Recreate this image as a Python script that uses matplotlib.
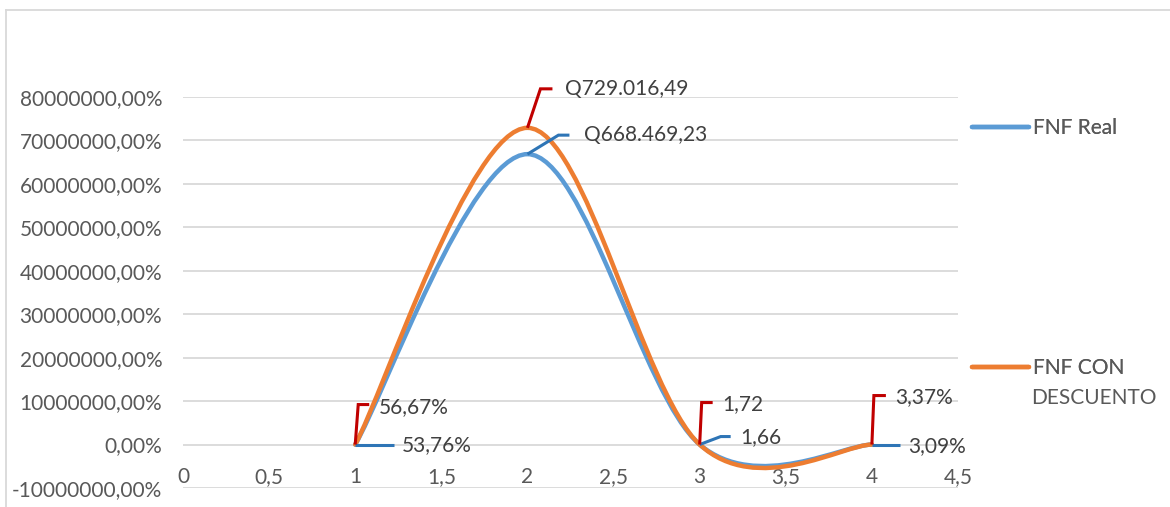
import matplotlib
matplotlib.use("Agg")
import matplotlib.pyplot as plt
from matplotlib.path import Path
from matplotlib.patches import PathPatch
from matplotlib.lines import Line2D
from matplotlib.ticker import FuncFormatter, MultipleLocator

plt.rcParams['font.family'] = ['Lato', 'DejaVu Sans']

periods = [1, 2, 3, 4]
fnf_real = [0.5376, 668469.23, 1.66, 0.0309]
fnf_descuento = [0.5667, 729016.49, 1.72, 0.0337]
real_labels = ["53,76%", "Q668.469,23", "1,66", "3,09%"]
descuento_labels = ["56,67%", "Q729.016,49", "1,72", "3,37%"]
series_names = ["FNF Real", "FNF CON", "DESCUENTO"]

BLUE = "#5B9BD5"
ORANGE = "#ED7D31"
BLUE_LEADER = "#2E75B6"
RED_LEADER = "#C00000"
GRID = "#D9D9D9"
TICK = "#595959"
LABEL = "#404040"
FS = 15


def smooth_path(xs, ys):
    # Excel-like smoothed line: Catmull-Rom segments as cubic Beziers
    pts = list(zip(xs, ys))
    verts = [pts[0]]
    codes = [Path.MOVETO]
    n = len(pts)
    for i in range(n - 1):
        p0 = pts[max(i - 1, 0)]
        p1 = pts[i]
        p2 = pts[i + 1]
        p3 = pts[min(i + 2, n - 1)]
        c1 = (p1[0] + (p2[0] - p0[0]) / 6, p1[1] + (p2[1] - p0[1]) / 6)
        c2 = (p2[0] - (p3[0] - p1[0]) / 6, p2[1] - (p3[1] - p1[1]) / 6)
        verts += [c1, c2, p2]
        codes += [Path.CURVE4] * 3
    return Path(verts, codes)


def pct_fmt(v, pos):
    return f"{v * 100:.2f}".replace(".", ",") + "%"


def x_fmt(v, pos):
    return f"{v:g}".replace(".", ",")


fig = plt.figure(figsize=(11.7, 5.07), dpi=100)
ax = fig.add_axes([183 / 1170, 1 - 488 / 507, 775 / 1170, (488 - 97) / 507])

ax.set_xlim(0, 4.5)
ax.set_ylim(-100000, 800000)
ax.xaxis.set_major_locator(MultipleLocator(0.5))
ax.yaxis.set_major_locator(MultipleLocator(100000))
ax.xaxis.set_major_formatter(FuncFormatter(x_fmt))
ax.yaxis.set_major_formatter(FuncFormatter(pct_fmt))
ax.grid(axis='y', color=GRID, linewidth=1.3)
ax.set_axisbelow(True)
for side in ['left', 'right', 'top']:
    ax.spines[side].set_visible(False)
ax.spines['bottom'].set_position(('data', 0))
ax.spines['bottom'].set_color('none')
ax.tick_params(axis='both', length=0, labelsize=FS, colors=TICK)
ax.tick_params(axis='x', pad=16)
ax.tick_params(axis='y', pad=15)

for ys, color in [(fnf_real, BLUE), (fnf_descuento, ORANGE)]:
    ax.add_patch(PathPatch(smooth_path(periods, ys), facecolor='none',
                           edgecolor=color, linewidth=3.2, capstyle='round'))

# data label leaders, offsets in pixels from the data point
real_leaders = [[(0, 0), (39, 0)], [(0, 0), (31, 19), (42, 19)],
                [(0, 0), (21, 8), (31, 8)], [(0, 0), (28, 0)]]
real_text = [(47, -1), (57, 19), (41, 7), (36, -2)]
desc_leaders = [[(0, 0), (3, 40), (14, 40)], [(0, 0), (13, 39), (25, 39)],
                [(0, 0), (2, 42), (13, 42)], [(0, 0), (2, 49), (14, 49)]]
desc_text = [(24, 37), (38, 39), (23, 40), (23, 47)]

px = fig.dpi / 72.0
for ys, labels, leaders, offs, lcolor in [
        (fnf_real, real_labels, real_leaders, real_text, BLUE_LEADER),
        (fnf_descuento, descuento_labels, desc_leaders, desc_text, RED_LEADER)]:
    for x, y, lab, leader, off in zip(periods, ys, labels, leaders, offs):
        disp = ax.transData.transform([(x, y)])[0]
        verts = [(disp[0] + dx, disp[1] + dy) for dx, dy in leader]
        line = Line2D([v[0] for v in verts], [v[1] for v in verts],
                      color=lcolor, linewidth=2.2, transform=None,
                      solid_capstyle='butt', solid_joinstyle='miter')
        fig.add_artist(line)
        ax.annotate(lab, xy=(x, y), xytext=(off[0] / px, off[1] / px),
                    textcoords='offset points', ha='left', va='center',
                    fontsize=FS, color=LABEL)

# legend, entries spread like the original
for name, color, ypos in [(series_names[0], BLUE, 1 - 128 / 507),
                          (series_names[1], ORANGE, 1 - 368 / 507)]:
    handle = Line2D([], [], color=color, linewidth=3.2, solid_capstyle='round')
    leg = fig.legend([handle], [name], loc='center left',
                     bbox_to_anchor=(953 / 1170, ypos), frameon=False,
                     fontsize=FS, handlelength=2.75, handletextpad=0.2,
                     labelcolor=TICK)
    fig.add_artist(leg)
fig.text(1031 / 1170, 1 - 398 / 507, series_names[2], fontsize=FS,
         color=TICK, ha='left', va='center')

# chart border
fig.add_artist(Line2D([6 / 1170, 1], [1 - 10 / 507, 1 - 10 / 507],
                      color=GRID, linewidth=1.3, transform=fig.transFigure))
fig.add_artist(Line2D([6 / 1170, 6 / 1170], [0, 1 - 10 / 507],
                      color=GRID, linewidth=1.3, transform=fig.transFigure))

fig.savefig("out.png", dpi=100)
